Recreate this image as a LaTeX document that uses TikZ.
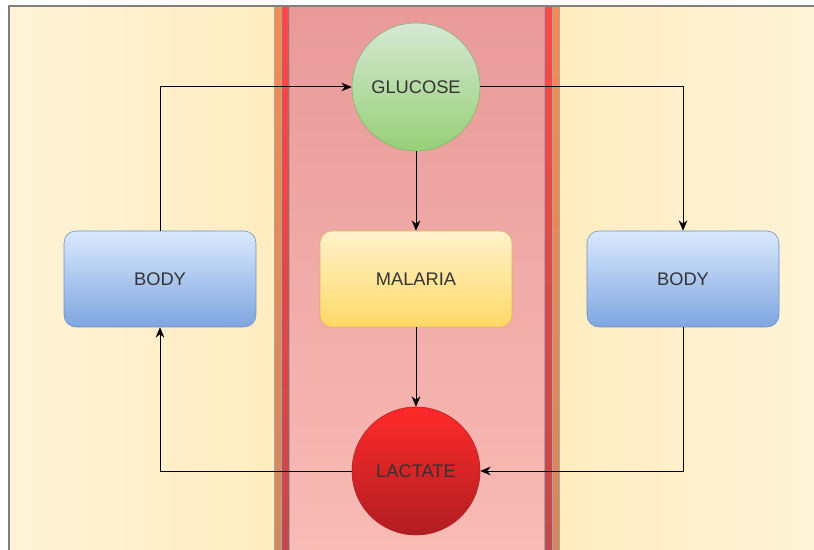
\documentclass[tikz,border=0pt]{standalone}
\usepackage{fontspec}
\setmainfont{Liberation Sans}
\usepackage{tikz}
\usetikzlibrary{positioning, arrows, arrows.meta, shapes.geometric}

\definecolor{tissuelight}{HTML}{FFF4D8}
\definecolor{tissuedark}{HTML}{FFECC0}
\definecolor{vesseltop}{HTML}{E89A9A}
\definecolor{vesselbot}{HTML}{F9BBB5}
\definecolor{walloranget}{HTML}{F78A4C}
\definecolor{walloranged}{HTML}{D4885C}
\definecolor{wallredt}{HTML}{F84A4A}
\definecolor{wallredd}{HTML}{C2494F}
\definecolor{bodytop}{HTML}{DAE8FC}
\definecolor{bodybot}{HTML}{7EA6E0}
\definecolor{bodyline}{HTML}{6C8EBF}
\definecolor{glctop}{HTML}{D5E8D4}
\definecolor{glcbot}{HTML}{97D077}
\definecolor{glcline}{HTML}{82B366}
\definecolor{maltop}{HTML}{FFF2CC}
\definecolor{malbot}{HTML}{FFD966}
\definecolor{malline}{HTML}{D6B656}
\definecolor{lactop}{HTML}{FF2A2A}
\definecolor{lacbot}{HTML}{B01E22}
\definecolor{textgray}{HTML}{333333}

\tikzset{
	labeltext/.style={font=\fontsize{13}{15}\selectfont\color{textgray}}
}
\tikzset{
	wall/.style={draw=black!35, line width=0.35pt}
}

\begin{document}
\begin{tikzpicture}[>={Stealth[length=2.6mm, width=2.2mm]},
    box/.style={draw=bodyline, rounded corners=0.3cm, top color=bodytop, bottom color=bodybot, labeltext, minimum width=4.8cm, minimum height=2.4cm},
    blob/.style={circle, labeltext, minimum size=3.2cm, inner sep=0pt},
    link/.style={->, line width=0.7pt, black}]
      \useasboundingbox (0,0) rectangle (20.35,13.75);
      \fill[white] (0,0) rectangle (20.35,13.75);
      % tissue on both sides
      \shade[left color=tissuelight, right color=tissuedark] (0.225,0) rectangle (6.85,13.6);
      \shade[left color=tissuedark, right color=tissuelight] (13.975,0) rectangle (20.35,13.6);
      % vessel and its walls
      \shade[top color=vesseltop, bottom color=vesselbot] (7.22,0) rectangle (13.6,13.6);
      \shade[wall, top color=walloranget, bottom color=walloranged] (6.85,0) rectangle (7.04,13.6);
      \shade[wall, top color=wallredt, bottom color=wallredd] (7.04,0) rectangle (7.22,13.6);
      \shade[wall, top color=wallredt, bottom color=wallredd] (13.6,0) rectangle (13.8,13.6);
      \shade[wall, top color=walloranget, bottom color=walloranged] (13.8,0) rectangle (13.975,13.6);
      \draw[gray, line width=0.8pt] (0.225,0) |- (20.35,13.6);

      \node[blob, draw=glcline, top color=glctop, bottom color=glcbot] (glc) at (10.4,11.575) {GLUCOSE};
      \node[box, draw=malline, top color=maltop, bottom color=malbot] (mal) at (10.4,6.775) {MALARIA};
      \node[blob, draw=lacbot, top color=lactop, bottom color=lacbot] (lac) at (10.4,1.975) {LACTATE};
      \node[box] (bodyl) at (4.0,6.775) {BODY};
      \node[box] (bodyr) at (17.075,6.775) {BODY};

      \draw[link] (bodyl.north) |- (glc.west);
      \draw[link] (glc.east) -| (bodyr.north);
      \draw[link] (glc.south) -- (mal.north);
      \draw[link] (mal.south) -- (lac.north);
      \draw[link] (bodyr.south) |- (lac.east);
      \draw[link] (lac.west) -| (bodyl.south);
    \end{tikzpicture}
\end{document}
